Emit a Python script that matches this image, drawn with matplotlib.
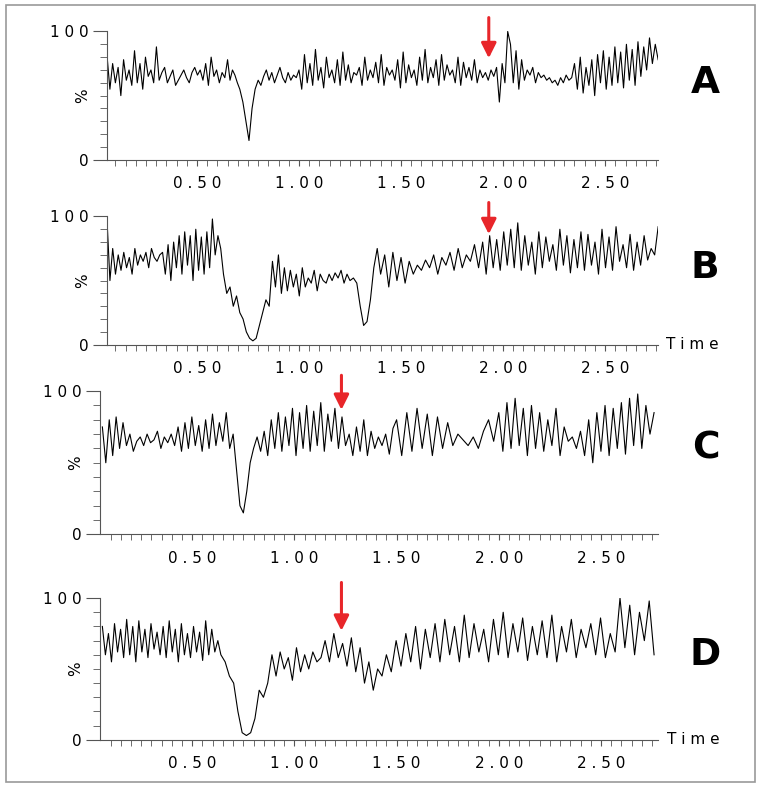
import numpy as np
import matplotlib
matplotlib.use("Agg")
import matplotlib.pyplot as plt
from matplotlib.patches import Rectangle

# each panel: segment boundary times and the values within each segment
a_times = [0.06, 0.65, 0.71, 0.80, 1.00, 1.90, 2.20, 2.35, 2.76]
a_segs = [[80,55,75,60,72,50,78,62,70,58,85,60,75,55,80,65,70,60,88,62,68,72,60,65,70,58,62,66,70,64,60,68,72,66,70,62,75,58,80,65,70,60,68,64],
          [78,62,70,66,60],
          [55,45,30,15,40,55],
          [62,58,65,70,62,68,60,66,72,64,60,68,62,66,64],
          [70,55,82,60,75,58,86,62,72,56,80,64,70,60,78,58,84,62,74,60,68,66,72,58,80,62,70,64,76,60,82,58,72,66,70,62,78,56,84,60,74,64,70,58,80,62,86,60,72,64,78,58,82,62,74,66,70,60,80,58,76,64,72,62,78,60,70],
          [64,68,62,70,65,72,45,75,60,100,90,60,85,55,78,62,70,66,72,60,68,64],
          [66,62,64,60,62,58,64,60,66,62,64],
          [75,55,80,52,72,58,78,50,82,60,85,55,80,58,88,60,84,56,90,62,86,58,92,65,88,70,95,75,90,78]]
b_times = [0.06, 0.63, 0.87, 1.25, 1.40, 1.90, 2.76]
b_segs = [[95,50,75,55,70,58,72,60,68,55,75,62,70,65,72,60,75,68,65,70,72,55,78,50,80,60,85,55,88,62,85,50,90,58,84,55,88,60,98,70,85,75],
          [55,40,45,30,38,25,20,10,5,3,5,15,25,35,30],
          [65,45,70,40,60,42,58,45,55,38,60,45,52,48,58,42,55,50,48,55,50,56,52,58,48,55],
          [50,52,48,30,15,18,35,60,75],
          [55,70,45,72,50,68,48,65,55,62,58,66,60,70,55,68,62,72,58,75,60,70,65,78,60],
          [80,55,85,60,82,58,88,62,90,60,95,58,85,62,80,55,88,60,84,65,78,58,90,62,85,56,82,60,88,58,86,62,80,55,90,60,84,58,92,65,78,60,86,58,80,62,85,66,75,70,92]]
c_times = [0.06, 0.70, 0.80, 1.25, 1.50, 2.00, 2.76]
c_segs = [[75,50,80,55,82,60,78,62,70,58,65,68,62,70,64,66,72,60,68,64,70,62,75,58,78,60,82,62,76,58,80,60,84,62,78,65,85,60],
          [70,45,20,15,30,50],
          [60,68,58,72,55,80,60,85,58,82,62,88,55,85,60,90,58,86,62,92,58,84,65,88,60,82],
          [62,70,55,75,58,80,55,72,60,68,62,70,56,74],
          [80,55,85,58,88,60,84,55,82,60,78,62,70,66,62,68,60,72,80,65],
          [85,58,92,60,95,62,88,55,90,60,85,58,80,62,88,55,75,65,68,60,72,55,80,50,85,58,90,55,88,60,92,56,95,62,98,60,90,70,85]]
d_times = [0.06, 0.64, 0.89, 1.15, 1.45, 2.76]
d_segs = [[80,60,75,55,82,62,78,58,85,60,80,55,84,62,78,58,82,64,76,60,80,58,84,62,78,55,82,60,75,58,80,62,76,56,84,60,78,62,70],
          [60,55,45,40,20,5,3,5,15,35,30,40],
          [60,45,62,50,58,42,65,48,60,50,62,55,58],
          [70,55,75,58,68,52,72,48,65,40,55,35,50,45],
          [60,48,70,52,75,55,80,50,78,58,82,55,85,60,80,55,88,58,82,62,78,55,85,60,90,58,82,62,86,56,80,60,84,58,88,55,80,62,85,58,78,65,82,60,86,58,75,62,100,65,95,60,90,70,98,60]]

panel_labels = ["A", "B", "C", "D"]
arrow_times = [1.93, 1.93, 1.23, 1.23]
arrow_tips = [77, 84, 85, 75]
x_ticks = [0.50, 1.00, 1.50, 2.00, 2.50]
x_ticklabels = ["0 . 5 0", "1 . 0 0", "1 . 5 0", "2 . 0 0", "2 . 5 0"]
y_ticklabels = ["0", "1 0 0"]
time_label = "T i m e"


def build(times, segs):
    ts, vs = [], []
    for k, seg in enumerate(segs):
        last = k == len(segs) - 1
        ts.append(np.linspace(times[k], times[k + 1], len(seg), endpoint=last))
        vs.append(np.asarray(seg, float))
    return np.concatenate(ts), np.concatenate(vs)


fig = plt.figure(figsize=(7.6, 7.87), dpi=100)
fig.patches.append(Rectangle((0.008, 0.006), 0.985, 0.988, transform=fig.transFigure,
                             fill=False, edgecolor="#999999", lw=1.2))

rects = [(0.141, 0.797, 0.725, 0.163), (0.141, 0.562, 0.725, 0.163),
         (0.132, 0.321, 0.734, 0.182), (0.132, 0.060, 0.734, 0.180)]
xlims = [(0.06, 2.76), (0.06, 2.76), (0.05, 2.78), (0.05, 2.78)]
series = [(a_times, a_segs), (b_times, b_segs), (c_times, c_segs), (d_times, d_segs)]
show_time = [False, True, False, True]

for i, (times, segs) in enumerate(series):
    ax = fig.add_axes(rects[i])
    t, vals = build(times, segs)
    ax.plot(t, vals, color="black", lw=0.8)
    x0, x1 = xlims[i]
    ax.set_xlim(x0, x1)
    ax.set_ylim(0, 100)
    for s in ["top", "right"]:
        ax.spines[s].set_visible(False)
    ax.spines["left"].set_color("#555555")
    ax.spines["bottom"].set_color("#555555")
    ax.set_yticks([0, 100])
    ax.set_yticklabels(y_ticklabels, fontsize=11)
    ax.set_yticks(np.arange(10, 100, 10), minor=True)
    ax.set_xticks(x_ticks)
    ax.set_xticklabels(x_ticklabels, fontsize=11)
    ax.set_xticks(np.arange(0.1, 2.76, 0.05), minor=True)
    ax.tick_params(axis="y", which="major", length=10, direction="out", color="#555555")
    ax.tick_params(axis="y", which="minor", length=5, color="#555555")
    ax.tick_params(axis="x", which="major", length=4, pad=8, color="#555555")
    ax.tick_params(axis="x", which="minor", length=4, color="#555555")
    ax.text(-0.045, 0.5, "%", transform=ax.transAxes, rotation=90,
            ha="center", va="center", fontsize=11)
    ax.annotate("", xy=(arrow_times[i], arrow_tips[i]), xytext=(arrow_times[i], 113),
                arrowprops=dict(arrowstyle="-|>,head_width=0.45,head_length=0.9",
                                color="#e8262a", lw=2.2), annotation_clip=False)
    ax.text(1.085, 0.6, panel_labels[i], transform=ax.transAxes, fontsize=27,
            fontweight="heavy", ha="center", va="center")
    if show_time[i]:
        ax.text(1.015, 0.0, time_label, transform=ax.transAxes, fontsize=11,
                ha="left", va="center")

fig.savefig("out.png", dpi=100)
